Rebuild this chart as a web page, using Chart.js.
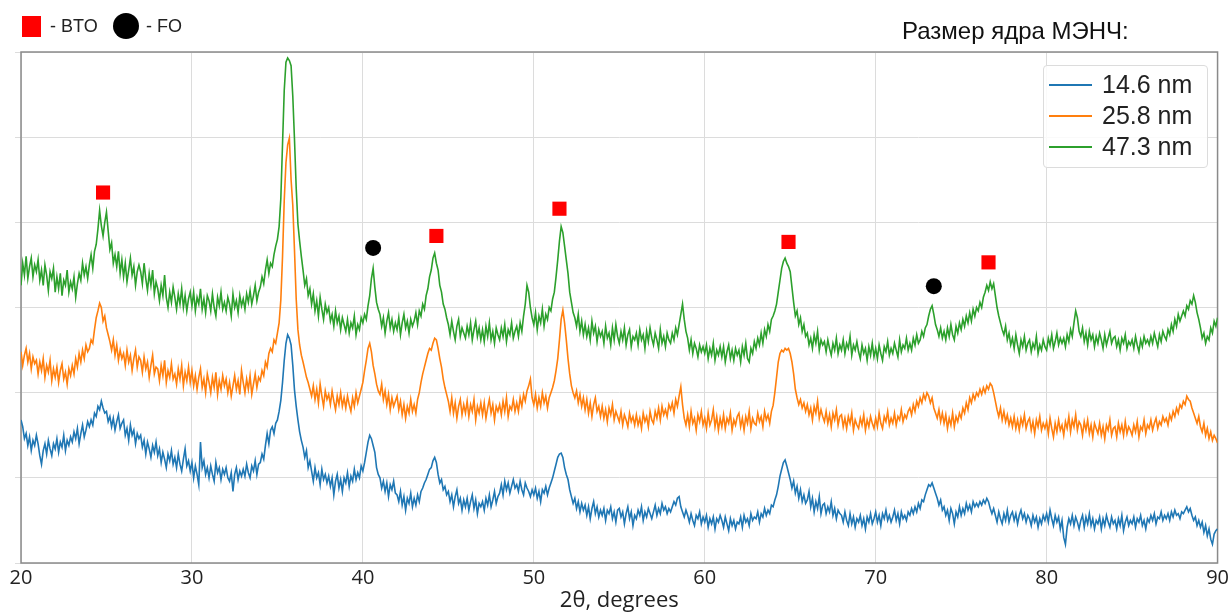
<!DOCTYPE html>
<html lang="ru">
<head>
<meta charset="utf-8">
<title>XRD</title>
<script src="https://cdn.jsdelivr.net/npm/chart.js@4.4.1/dist/chart.umd.min.js"></script>
<style>
  html, body { margin: 0; padding: 0; background: #fff; }
  #wrap { position: relative; width: 1232px; height: 612px; overflow: hidden; }
  #chart-box { position: absolute; left: 0; top: 0; width: 1232px; height: 612px; }
  .phase-key { position: absolute; font: 18px "Liberation Sans", Arial, sans-serif; color: #222; line-height: 24px; top: 14px; white-space: nowrap; }
  .sq { position: absolute; left: 22px; top: 16px; width: 19px; height: 21px; background: #f00; }
  .dot { position: absolute; left: 113px; top: 13px; width: 26px; height: 26px; border-radius: 50%; background: #000; }
  #title { position: absolute; left: 902px; top: 17px; font: 24px "Liberation Sans", Arial, sans-serif; color: #111; white-space: nowrap; }
  #legend { position: absolute; left: 1043px; top: 65px; width: 163px; height: 101px; border: 1px solid #dcdcdc; border-radius: 4px; background: rgba(255,255,255,0.85); }
  .row { position: absolute; left: 0; height: 31px; width: 163px; }
  .row i { position: absolute; left: 5px; top: 15px; width: 43px; height: 2px; }
  .row span { position: absolute; left: 58px; top: 0; font: 25px "Liberation Sans", Arial, sans-serif; line-height: 31px; color: #222; }
</style>
</head>
<body>
<div id="wrap">
  <div id="chart-box"><canvas id="xrd"></canvas></div>
  <div class="sq"></div><div class="phase-key" style="left:50px">- BTO</div>
  <div class="dot"></div><div class="phase-key" style="left:146px">- FO</div>
  <div id="title">Размер ядра МЭНЧ:</div>
  <div id="legend"></div>
</div>
<script>
/* ── Data (2θ scan 20..90°, step 0.1°, intensity in a.u.) ─────── */
const scanStart = 20;
const scanStep = 0.1;

const seriesNames = ['14.6 nm', '25.8 nm', '47.3 nm'];
const seriesColors = ['#1f77b4', '#ff7f0e', '#2ca02c'];

// 14.6 nm core, one row per degree
const blueCounts = [
  /*20*/ 168, 160, 146, 152, 138, 148, 132, 144, 138, 150,
  /*21*/ 140, 126, 116, 132, 140, 128, 144, 134, 126, 140,
  /*22*/ 134, 146, 130, 142, 136, 150, 132, 144, 138, 148,
  /*23*/ 142, 154, 146, 158, 140, 152, 162, 148, 156, 166,
  /*24*/ 160, 168, 162, 176, 172, 184, 180, 190, 182, 176,
  /*25*/ 178, 166, 172, 160, 170, 156, 166, 174, 158, 164,
  /*26*/ 168, 150, 158, 144, 162, 150, 156, 140, 152, 146,
  /*27*/ 150, 136, 144, 128, 142, 134, 124, 138, 130, 142,
  /*28*/ 126, 134, 118, 130, 122, 112, 128, 120, 132, 116,
  /*29*/ 124, 112, 128, 116, 108, 122, 134, 114, 120, 108,
  /*30*/ 118, 100, 114, 104, 92, 142, 112, 120, 104, 112,
  /*31*/ 100, 114, 104, 96, 118, 106, 112, 98, 110, 104,
  /*32*/ 112, 100, 96, 106, 84, 104, 112, 98, 108, 102,
  /*33*/ 110, 102, 116, 106, 100, 114, 108, 120, 104, 116,
  /*34*/ 118, 128, 122, 138, 152, 140, 156, 160, 152, 164,
  /*35*/ 168, 178, 191, 212, 238, 258, 268, 264, 256, 232,
  /*36*/ 203, 184, 168, 154, 144, 136, 124, 132, 112, 120,
  /*37*/ 108, 96, 112, 100, 106, 92, 110, 98, 104, 94,
  /*38*/ 102, 90, 100, 80, 96, 104, 88, 98, 84, 100,
  /*39*/ 94, 106, 90, 102, 96, 110, 98, 106, 100, 114,
  /*40*/ 108, 118, 130, 142, 150, 146, 138, 130, 112, 104,
  /*41*/ 100, 88, 96, 84, 94, 78, 92, 86, 96, 82,
  /*42*/ 80, 72, 84, 68, 78, 62, 76, 70, 82, 66,
  /*43*/ 76, 68, 80, 72, 84, 88, 94, 98, 104, 110,
  /*44*/ 112, 120, 124, 118, 104, 94, 98, 86, 90, 80,
  /*45*/ 84, 72, 80, 66, 78, 86, 70, 76, 62, 74,
  /*46*/ 66, 76, 62, 72, 80, 64, 74, 58, 70, 66,
  /*47*/ 72, 62, 76, 68, 80, 66, 74, 84, 70, 78,
  /*48*/ 82, 92, 80, 96, 86, 94, 82, 90, 98, 88,
  /*49*/ 92, 84, 96, 86, 80, 94, 88, 84, 78, 86,
  /*50*/ 80, 88, 76, 84, 72, 86, 82, 90, 80, 88,
  /*51*/ 94, 100, 108, 116, 124, 128, 129, 124, 112, 104,
  /*52*/ 98, 86, 78, 70, 76, 64, 72, 60, 70, 62,
  /*53*/ 68, 56, 66, 52, 64, 72, 58, 66, 54, 62,
  /*54*/ 56, 64, 50, 62, 58, 66, 52, 60, 48, 62,
  /*55*/ 64, 54, 60, 46, 58, 66, 52, 60, 44, 56,
  /*56*/ 52, 62, 56, 66, 50, 60, 54, 64, 58, 52,
  /*57*/ 60, 68, 56, 64, 58, 70, 62, 66, 58, 64,
  /*58*/ 60, 66, 72, 68, 76, 78, 66, 60, 54, 62,
  /*59*/ 56, 48, 58, 50, 44, 56, 52, 60, 46, 54,
  /*60*/ 48, 56, 42, 52, 46, 54, 40, 52, 48, 56,
  /*61*/ 50, 42, 54, 46, 38, 52, 44, 50, 40, 48,
  /*62*/ 46, 54, 42, 56, 48, 52, 44, 58, 50, 54,
  /*63*/ 52, 60, 48, 58, 54, 64, 56, 62, 58, 68,
  /*64*/ 66, 74, 80, 90, 102, 110, 118, 121, 114, 106,
  /*65*/ 98, 88, 96, 82, 90, 76, 86, 72, 80, 70,
  /*66*/ 74, 84, 66, 76, 60, 72, 64, 78, 58, 68,
  /*67*/ 70, 58, 66, 60, 72, 56, 64, 52, 62, 58,
  /*68*/ 56, 48, 60, 50, 44, 58, 46, 54, 42, 52,
  /*69*/ 48, 56, 44, 52, 40, 54, 48, 58, 46, 52,
  /*70*/ 60, 48, 56, 44, 58, 52, 62, 50, 56, 48,
  /*71*/ 54, 62, 50, 58, 46, 60, 52, 56, 50, 60,
  /*72*/ 56, 64, 58, 66, 60, 70, 64, 74, 72, 80,
  /*73*/ 86, 92, 90, 94, 88, 82, 76, 68, 74, 62,
  /*74*/ 66, 56, 62, 50, 64, 58, 46, 60, 54, 66,
  /*75*/ 56, 64, 58, 70, 62, 68, 60, 72, 66, 70,
  /*76*/ 66, 72, 68, 74, 70, 76, 72, 64, 58, 64,
  /*77*/ 56, 48, 60, 52, 46, 58, 50, 62, 48, 56,
  /*78*/ 60, 50, 58, 46, 56, 62, 52, 58, 48, 56,
  /*79*/ 52, 44, 56, 48, 54, 42, 52, 46, 56, 50,
  /*80*/ 58, 48, 62, 52, 44, 56, 48, 54, 40, 50,
  /*81*/ 30, 22, 42, 52, 46, 56, 44, 54, 48, 40,
  /*82*/ 50, 56, 42, 54, 46, 58, 44, 52, 40, 50,
  /*83*/ 46, 54, 40, 52, 44, 56, 48, 42, 54, 46,
  /*84*/ 50, 40, 52, 44, 56, 38, 48, 54, 44, 50,
  /*85*/ 46, 54, 42, 52, 48, 56, 44, 50, 40, 52,
  /*86*/ 48, 56, 50, 58, 46, 54, 52, 60, 50, 56,
  /*87*/ 52, 58, 50, 60, 54, 62, 56, 58, 52, 60,
  /*88*/ 58, 62, 66, 60, 64, 56, 50, 54, 44, 50,
  /*89*/ 42, 48, 36, 44, 32, 40, 28, 22, 34, 38,
  /*90*/ 40
];

// 25.8 nm core
const orangeCounts = [
  /*20*/ 248, 232, 244, 252, 236, 246, 228, 242, 234, 238,
  /*21*/ 222, 236, 226, 240, 218, 232, 224, 238, 214, 228,
  /*22*/ 218, 230, 212, 226, 234, 216, 224, 210, 228, 220,
  /*23*/ 232, 222, 240, 230, 246, 236, 250, 240, 256, 248,
  /*24*/ 252, 262, 258, 274, 288, 296, 305, 300, 284, 290,
  /*25*/ 276, 268, 260, 250, 262, 244, 256, 238, 250, 240,
  /*26*/ 246, 232, 250, 236, 244, 226, 240, 250, 230, 242,
  /*27*/ 238, 224, 242, 228, 236, 218, 232, 244, 222, 230,
  /*28*/ 228, 214, 232, 220, 238, 212, 226, 218, 234, 216,
  /*29*/ 222, 210, 228, 216, 232, 208, 224, 214, 230, 212,
  /*30*/ 226, 208, 220, 204, 218, 228, 206, 216, 200, 222,
  /*31*/ 212, 200, 218, 206, 224, 198, 214, 204, 220, 208,
  /*32*/ 216, 200, 212, 196, 208, 220, 204, 214, 198, 226,
  /*33*/ 212, 200, 216, 204, 220, 198, 210, 222, 206, 218,
  /*34*/ 214, 226, 220, 236, 230, 246, 252, 248, 262, 258,
  /*35*/ 270, 282, 309, 360, 426, 470, 491, 499, 450, 420,
  /*36*/ 367, 310, 274, 256, 244, 236, 227, 218, 212, 204,
  /*37*/ 196, 208, 192, 204, 188, 210, 196, 184, 202, 192,
  /*38*/ 198, 186, 202, 190, 180, 196, 186, 200, 184, 194,
  /*39*/ 182, 196, 186, 178, 194, 184, 200, 188, 196, 204,
  /*40*/ 212, 226, 238, 252, 258, 248, 232, 222, 210, 202,
  /*41*/ 198, 210, 192, 202, 186, 198, 180, 194, 184, 190,
  /*42*/ 196, 180, 190, 174, 186, 170, 184, 176, 192, 178,
  /*43*/ 186, 176, 192, 200, 212, 222, 230, 238, 246, 252,
  /*44*/ 250, 258, 264, 262, 252, 240, 230, 216, 206, 198,
  /*45*/ 190, 178, 194, 176, 188, 170, 184, 192, 174, 186,
  /*46*/ 176, 190, 172, 186, 178, 192, 168, 184, 176, 188,
  /*47*/ 174, 188, 170, 182, 192, 176, 186, 168, 184, 178,
  /*48*/ 186, 174, 190, 178, 194, 172, 184, 180, 192, 178,
  /*49*/ 188, 178, 194, 184, 198, 190, 202, 208, 216, 194,
  /*50*/ 186, 198, 182, 194, 184, 200, 188, 196, 182, 194,
  /*51*/ 200, 206, 214, 226, 240, 262, 286, 297, 282, 262,
  /*52*/ 240, 222, 208, 200, 194, 202, 188, 198, 184, 194,
  /*53*/ 180, 192, 176, 188, 172, 186, 194, 178, 184, 172,
  /*54*/ 184, 170, 180, 166, 182, 174, 186, 168, 178, 172,
  /*55*/ 166, 178, 162, 174, 168, 160, 176, 166, 172, 162,
  /*56*/ 174, 162, 170, 158, 176, 166, 172, 160, 178, 168,
  /*57*/ 164, 178, 170, 182, 168, 184, 174, 180, 172, 186,
  /*58*/ 180, 188, 176, 192, 184, 196, 207, 186, 170, 162,
  /*59*/ 174, 160, 178, 164, 170, 156, 174, 166, 178, 162,
  /*60*/ 170, 158, 176, 162, 168, 180, 160, 172, 156, 170,
  /*61*/ 160, 174, 158, 170, 164, 176, 156, 168, 162, 172,
  /*62*/ 176, 160, 170, 156, 172, 164, 178, 158, 170, 164,
  /*63*/ 162, 176, 166, 172, 160, 178, 168, 174, 164, 178,
  /*64*/ 185, 200, 218, 236, 246, 250, 248, 252, 250, 252,
  /*65*/ 246, 236, 222, 204, 194, 186, 192, 182, 188, 178,
  /*66*/ 186, 174, 182, 168, 184, 176, 190, 170, 180, 172,
  /*67*/ 166, 178, 164, 174, 160, 176, 168, 180, 162, 172,
  /*68*/ 174, 160, 170, 158, 172, 164, 176, 156, 168, 162,
  /*69*/ 158, 170, 162, 174, 156, 168, 160, 172, 164, 158,
  /*70*/ 170, 160, 176, 164, 158, 172, 166, 178, 162, 170,
  /*71*/ 164, 176, 162, 172, 168, 180, 166, 174, 170, 178,
  /*72*/ 182, 174, 186, 178, 190, 184, 194, 188, 198, 192,
  /*73*/ 200, 196, 188, 194, 182, 176, 170, 180, 166, 176,
  /*74*/ 164, 174, 158, 170, 162, 176, 160, 172, 166, 176,
  /*75*/ 170, 182, 176, 188, 180, 194, 188, 198, 192, 200,
  /*76*/ 196, 204, 198, 206, 200, 208, 204, 211, 208, 200,
  /*77*/ 190, 180, 172, 182, 168, 178, 166, 174, 162, 170,
  /*78*/ 160, 172, 158, 168, 156, 170, 162, 174, 158, 166,
  /*79*/ 170, 156, 166, 152, 168, 160, 172, 156, 164, 158,
  /*80*/ 166, 152, 170, 158, 148, 164, 154, 168, 156, 162,
  /*81*/ 150, 166, 158, 172, 154, 168, 160, 174, 156, 166,
  /*82*/ 162, 150, 166, 156, 168, 152, 162, 148, 164, 158,
  /*83*/ 152, 164, 150, 160, 146, 162, 156, 168, 150, 158,
  /*84*/ 160, 148, 164, 154, 162, 150, 166, 152, 160, 156,
  /*85*/ 150, 162, 154, 166, 148, 160, 156, 168, 152, 162,
  /*86*/ 158, 168, 156, 164, 170, 158, 166, 162, 172, 166,
  /*87*/ 170, 162, 174, 168, 178, 172, 182, 176, 186, 182,
  /*88*/ 190, 186, 196, 192, 190, 182, 176, 170, 164, 172,
  /*89*/ 160, 154, 164, 150, 158, 146, 154, 144, 150, 146,
  /*90*/ 141
];

// 47.3 nm core
const greenCounts = [
  /*20*/ 326, 352, 338, 360, 334, 348, 358, 336, 350, 342,
  /*21*/ 356, 332, 344, 326, 350, 338, 320, 342, 334, 346,
  /*22*/ 318, 336, 322, 340, 314, 332, 326, 344, 318, 330,
  /*23*/ 322, 336, 312, 328, 340, 332, 352, 338, 348, 334,
  /*24*/ 350, 362, 346, 366, 374, 392, 414, 396, 384, 400,
  /*25*/ 412, 390, 368, 376, 352, 362, 348, 366, 340, 356,
  /*26*/ 336, 352, 330, 344, 358, 338, 348, 326, 342, 350,
  /*27*/ 342, 328, 352, 334, 320, 340, 326, 344, 316, 330,
  /*28*/ 322, 308, 326, 314, 338, 312, 300, 318, 306, 324,
  /*29*/ 312, 298, 316, 304, 322, 300, 314, 296, 310, 318,
  /*30*/ 302, 318, 296, 312, 304, 322, 298, 310, 294, 314,
  /*31*/ 308, 296, 316, 300, 290, 312, 302, 318, 298, 306,
  /*32*/ 296, 312, 304, 290, 316, 300, 308, 294, 314, 302,
  /*33*/ 310, 298, 316, 306, 320, 304, 314, 326, 308, 318,
  /*34*/ 324, 336, 328, 344, 356, 340, 352, 348, 362, 372,
  /*35*/ 380, 395, 428, 492, 555, 588, 593, 590, 584, 548,
  /*36*/ 497, 440, 398, 378, 360, 344, 326, 334, 314, 322,
  /*37*/ 304, 316, 296, 308, 290, 312, 298, 286, 304, 294,
  /*38*/ 300, 284, 292, 278, 296, 282, 290, 274, 288, 280,
  /*39*/ 272, 286, 270, 282, 276, 290, 268, 280, 274, 288,
  /*40*/ 282, 292, 286, 302, 314, 334, 346, 324, 306, 298,
  /*41*/ 292, 278, 288, 270, 284, 294, 276, 286, 272, 282,
  /*42*/ 274, 288, 268, 282, 292, 276, 284, 270, 286, 278,
  /*43*/ 284, 294, 280, 296, 290, 304, 298, 314, 322, 336,
  /*44*/ 344, 358, 364, 352, 344, 326, 318, 304, 298, 288,
  /*45*/ 280, 268, 284, 272, 262, 278, 286, 266, 276, 270,
  /*46*/ 264, 278, 268, 282, 262, 274, 284, 266, 276, 262,
  /*47*/ 274, 260, 278, 266, 282, 262, 272, 258, 276, 268,
  /*48*/ 262, 276, 266, 280, 260, 274, 268, 282, 264, 272,
  /*49*/ 278, 266, 282, 272, 290, 304, 326, 318, 300, 288,
  /*50*/ 280, 294, 274, 290, 282, 298, 278, 292, 286, 300,
  /*51*/ 296, 310, 318, 336, 356, 378, 395, 388, 372, 356,
  /*52*/ 340, 318, 306, 294, 288, 278, 292, 272, 284, 268,
  /*53*/ 280, 266, 276, 262, 284, 270, 278, 260, 274, 266,
  /*54*/ 272, 258, 278, 264, 270, 256, 276, 262, 280, 266,
  /*55*/ 258, 272, 262, 276, 256, 268, 274, 254, 266, 262,
  /*56*/ 270, 256, 274, 262, 268, 252, 272, 260, 276, 264,
  /*57*/ 256, 270, 262, 252, 274, 258, 266, 254, 270, 262,
  /*58*/ 258, 270, 262, 276, 268, 280, 292, 304, 286, 272,
  /*59*/ 264, 250, 262, 246, 258, 252, 242, 256, 248, 254,
  /*60*/ 246, 256, 240, 252, 244, 258, 238, 250, 244, 254,
  /*61*/ 242, 254, 236, 248, 256, 240, 250, 238, 252, 244,
  /*62*/ 250, 236, 254, 244, 258, 240, 236, 252, 246, 260,
  /*63*/ 252, 264, 256, 270, 258, 274, 266, 280, 272, 286,
  /*64*/ 290, 296, 304, 318, 332, 346, 354, 358, 352, 348,
  /*65*/ 342, 324, 306, 290, 296, 280, 288, 272, 280, 266,
  /*66*/ 270, 256, 264, 252, 268, 258, 272, 250, 262, 256,
  /*67*/ 260, 248, 262, 252, 244, 258, 250, 264, 246, 256,
  /*68*/ 250, 262, 246, 258, 252, 266, 244, 256, 250, 260,
  /*69*/ 248, 240, 256, 246, 252, 238, 254, 244, 258, 242,
  /*70*/ 252, 240, 256, 246, 238, 254, 248, 260, 244, 252,
  /*71*/ 246, 258, 250, 242, 262, 248, 256, 252, 264, 250,
  /*72*/ 258, 250, 264, 256, 268, 258, 262, 272, 266, 276,
  /*73*/ 280, 290, 298, 302, 292, 280, 274, 266, 276, 264,
  /*74*/ 272, 262, 276, 266, 280, 268, 262, 278, 270, 282,
  /*75*/ 274, 286, 278, 290, 282, 294, 284, 298, 290, 300,
  /*76*/ 296, 306, 300, 312, 318, 326, 320, 330, 322, 328,
  /*77*/ 314, 300, 290, 282, 274, 268, 278, 262, 270, 256,
  /*78*/ 264, 252, 268, 256, 246, 262, 254, 266, 250, 258,
  /*79*/ 262, 248, 258, 252, 266, 246, 256, 250, 262, 254,
  /*80*/ 250, 264, 256, 268, 252, 260, 270, 256, 264, 258,
  /*81*/ 264, 254, 268, 260, 274, 266, 282, 296, 288, 272,
  /*82*/ 266, 276, 260, 270, 256, 272, 262, 268, 254, 266,
  /*83*/ 258, 270, 262, 252, 268, 256, 264, 272, 258, 264,
  /*84*/ 266, 254, 262, 250, 264, 258, 268, 252, 260, 256,
  /*85*/ 262, 252, 266, 256, 248, 262, 254, 266, 258, 262,
  /*86*/ 256, 266, 258, 270, 262, 254, 268, 260, 272, 266,
  /*87*/ 262, 274, 268, 280, 272, 286, 278, 292, 284, 290,
  /*88*/ 296, 290, 302, 298, 308, 304, 314, 306, 294, 286,
  /*89*/ 276, 264, 270, 258, 266, 262, 276, 270, 284, 278,
  /*90*/ 288
];

// phase markers (2θ position, marker height in a.u.)
const btoAngles = [24.8, 35.6, 44.3, 51.5, 64.9, 76.6];
const btoLevels = [435, 616, 384, 416, 377, 353];
const foAngles = [40.6, 73.4];
const foLevels = [370, 325];

const xTicks = [20, 30, 40, 50, 60, 70, 80, 90];

/* ── Helpers ─────────────────────────────────────────────── */
const toPoints = counts => counts.map((y, i) => ({ x: Math.round((scanStart + i * scanStep) * 10) / 10, y }));
const toMarks = (xs, ys) => xs.map((x, i) => ({ x, y: ys[i] }));

const frame = {
  id: 'frame',
  beforeDatasetsDraw(chart) {
    const { ctx, chartArea: a } = chart;
    ctx.save();
    ctx.strokeStyle = '#8a8a8a';
    ctx.lineWidth = 1.5;
    ctx.strokeRect(a.left, a.top, a.right - a.left, a.bottom - a.top);
    ctx.restore();
  }
};

/* ── Chart ───────────────────────────────────────────────── */
const lineSet = (idx, counts, order) => ({
  label: seriesNames[idx],
  data: toPoints(counts),
  borderColor: seriesColors[idx],
  borderWidth: 1.6,
  pointRadius: 0,
  tension: 0,
  order
});

new Chart(document.getElementById('xrd'), {
  type: 'line',
  data: {
    datasets: [
      lineSet(0, blueCounts, 3),
      lineSet(1, orangeCounts, 2),
      lineSet(2, greenCounts, 1),
      {
        label: 'BTO', data: toMarks(btoAngles, btoLevels), showLine: false,
        pointStyle: 'rect', pointRadius: 10, pointBorderWidth: 0,
        pointBackgroundColor: '#ff0000', borderColor: '#ff0000', clip: false, order: 0
      },
      {
        label: 'FO', data: toMarks(foAngles, foLevels), showLine: false,
        pointStyle: 'circle', pointRadius: 8, pointBorderWidth: 0,
        pointBackgroundColor: '#000', borderColor: '#000', clip: false, order: 0
      }
    ]
  },
  options: {
    responsive: true,
    maintainAspectRatio: false,
    animation: false,
    events: [],
    layout: { padding: { top: 52, right: 14, left: 0, bottom: 0 } },
    plugins: { legend: { display: false }, tooltip: { enabled: false } },
    scales: {
      x: {
        type: 'linear', min: 20, max: 90,
        afterBuildTicks: s => { s.ticks = xTicks.map(v => ({ value: v })); },
        afterFit: s => { s.height = 49; },
        grid: { color: '#dcdcdc', lineWidth: 1, drawTicks: false },
        border: { display: false },
        ticks: { padding: 3, color: '#222', font: { family: '"Open Sans", "DejaVu Sans", sans-serif', size: 20, lineHeight: 1.2 } },
        title: {
          display: true, text: '2θ, degrees', color: '#222',
          padding: { top: 0, bottom: 0 },
          font: { family: '"Open Sans", "DejaVu Sans", sans-serif', size: 22, lineHeight: 1.0 }
        }
      },
      y: {
        min: 0, max: 600,
        afterFit: s => { s.width = 21; },
        grid: { color: '#dcdcdc', lineWidth: 1, drawTicks: true, tickLength: 6 },
        border: { display: false },
        ticks: { stepSize: 100, display: false }
      }
    }
  },
  plugins: [frame]
});

/* ── Legend ──────────────────────────────────────────────── */
const legend = document.getElementById('legend');
seriesNames.forEach((name, i) => {
  const row = document.createElement('div');
  row.className = 'row';
  row.style.top = (3 + i * 31) + 'px';
  row.innerHTML = `<i style="background:${seriesColors[i]}"></i><span>${name}</span>`;
  legend.appendChild(row);
});
</script>
</body>
</html>
